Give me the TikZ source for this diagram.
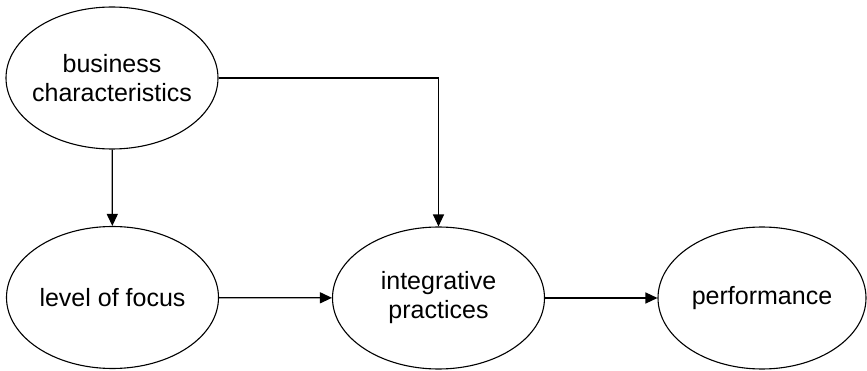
\documentclass[tikz,border=0pt]{standalone}
\usepackage{fontspec}
\setmainfont{Liberation Sans}
\usetikzlibrary{arrows.meta,shapes.geometric}
\begin{document}
\begin{tikzpicture}[x=1pt,y=-1pt,
  concept/.style={draw=black, line width=1.1pt, ellipse, minimum width=212pt, minimum height=142pt,
    inner xsep=-12pt, inner ysep=0pt, align=center, font=\fontsize{25}{29}\selectfont},
  link/.style={draw=black, line width=1.3pt, -{Triangle[length=12pt,width=11pt]}}]
  \useasboundingbox (0,0) rectangle (867,371);
  \node[concept] (bc)   at (112,78)    {business\\characteristics};
  \node[concept] (lof)  at (112.5,297.5) {level of focus};
  \node[concept] (ip)   at (438.5,298) {integrative\\practices};
  \node[concept, minimum width=208pt] (perf) at (762,298) {performance};
  \coordinate (bend) at (438.5,78);
  \draw[link] (bc) -- (lof);
  \draw[link] (bc.east) -- (bend) -- (ip.north);
  \draw[link] (lof) -- (ip);
  \draw[link] (ip) -- (perf);
\end{tikzpicture}
\end{document}
